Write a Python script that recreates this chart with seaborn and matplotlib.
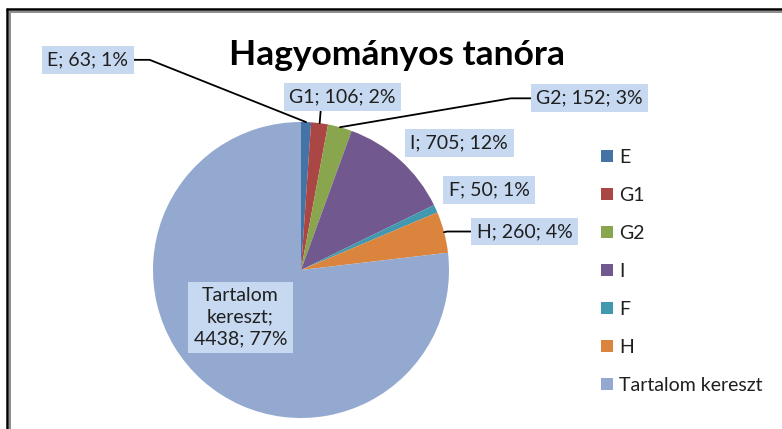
import matplotlib
matplotlib.use('Agg')
import matplotlib.pyplot as plt
import seaborn as sns
from matplotlib.patches import Patch
from matplotlib.lines import Line2D
import numpy as np

categories = ['E', 'G1', 'G2', 'I', 'F', 'H', 'Tartalom kereszt']
values = [63, 106, 152, 705, 50, 260, 4438]
percents = [1, 2, 3, 12, 1, 4, 77]
colors = ['#4572A7', '#AA4643', '#89A54E', '#71588F', '#4198AF', '#DB843D', '#93A9CF']
title = 'Hagyományos tanóra'

# label box centres (pie units, radius = 1) and leader line settings
label_xy = [(-1.44, 1.42), (0.28, 1.17), (1.95, 1.16), (1.07, 0.86),
            (1.27, 0.54), (1.51, 0.26), (-0.41, -0.32)]
leaders = [((1, 0.5), 'angle,angleA=0,angleB=-21.7'),
           ((0.3, 0.0), 'arc3'),
           ((0, 0.5), 'angle,angleA=0,angleB=9.6'),
           None, None,
           ((0, 0.5), 'angle,angleA=0,angleB=12.8'),
           None]

sns.set_style('white')
plt.rcParams['font.family'] = ['Lato', 'DejaVu Sans']
palette = sns.color_palette(colors)

W, H = 782, 429
fig = plt.figure(figsize=(W / 100, H / 100), dpi=100)
fig.patch.set_facecolor('white')

cx, cy, r = 301, 270, 148
ax = fig.add_axes([(cx - r) / W, (H - cy - r) / H, 2 * r / W, 2 * r / H])
wedges, _ = ax.pie(values, colors=palette, startangle=90, counterclock=False,
                   radius=1, wedgeprops=dict(linewidth=0))
ax.set_xlim(-1, 1)
ax.set_ylim(-1, 1)
ax.axis('off')

box = dict(boxstyle='square,pad=0.28', fc='#C6D9F1', ec='none')
for i, w in enumerate(wedges):
    if categories[i] == 'Tartalom kereszt':
        txt = 'Tartalom\nkereszt;\n{}; {}%'.format(values[i], percents[i])
    else:
        txt = '{}; {}; {}%'.format(categories[i], values[i], percents[i])
    mid = np.deg2rad((w.theta1 + w.theta2) / 2)
    tip = (np.cos(mid), np.sin(mid))
    if leaders[i] is None:
        ax.text(*label_xy[i], txt, ha='center', va='center', fontsize=14,
                color='#1f1f1f', bbox=box, multialignment='center',
                linespacing=1.35)
    else:
        relpos, conn = leaders[i]
        ax.annotate(txt, xy=tip, xytext=label_xy[i], ha='center', va='center',
                    fontsize=14, color='#1f1f1f', bbox=box, annotation_clip=False,
                    arrowprops=dict(arrowstyle='-', color='black', lw=1.3,
                                    relpos=relpos, connectionstyle=conn,
                                    shrinkA=0, shrinkB=0))

fig.text(396.5 / W, 1 - 55 / H, title, ha='center', va='center',
         fontsize=25.5, fontweight='bold', color='black')

handles = [Patch(facecolor=c, edgecolor='none') for c in palette]
fig.legend(handles, categories, loc='upper left',
           bbox_to_anchor=(601 / W, 1 - 149 / H), frameon=False,
           fontsize=14, handlelength=0.62, handleheight=0.62,
           handletextpad=0.3, labelspacing=1.08, borderaxespad=0,
           borderpad=0, labelcolor='#1f1f1f')

# chart frame (black outer + grey inner line)
fig.add_artist(Line2D([7 / W, 7 / W], [0, 1 - 9 / H], color='black', lw=1.8))
fig.add_artist(Line2D([7 / W, 1], [1 - 9 / H, 1 - 9 / H], color='black', lw=1.8))
fig.add_artist(Line2D([10 / W, 10 / W], [0, 1 - 11.5 / H], color='#8c8c8c', lw=1.4))
fig.add_artist(Line2D([10 / W, 1], [1 - 11.5 / H, 1 - 11.5 / H], color='#8c8c8c', lw=1.4))

plt.savefig('out.png', dpi=100)
